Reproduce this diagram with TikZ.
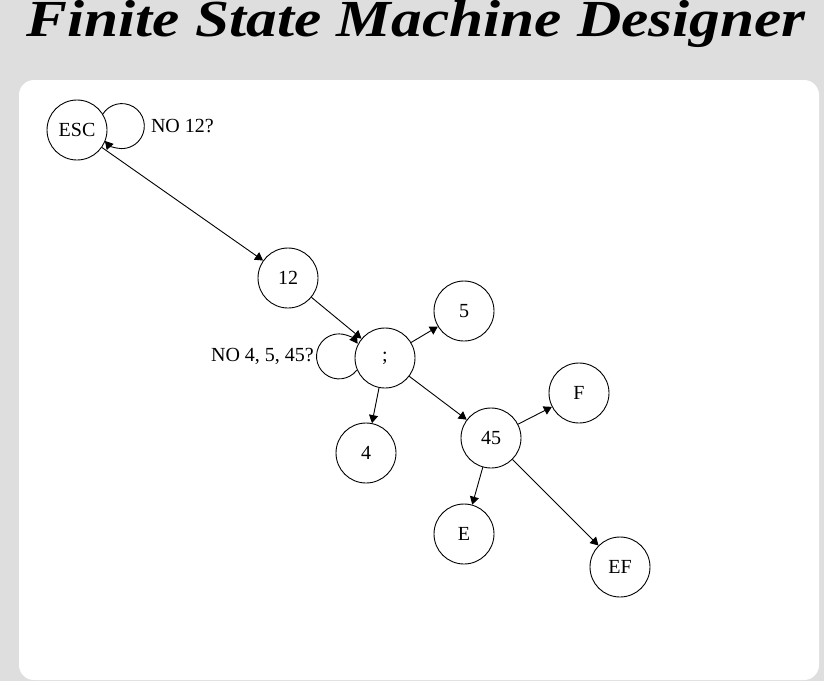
\documentclass[tikz,border=0pt]{standalone}
\usepackage{fontspec}
\usepackage{graphicx}
\setmainfont{Liberation Serif}
\usetikzlibrary{arrows.meta,calc}
\definecolor{pagegray}{RGB}{222,222,222}
\tikzstyle{arrow}=[line width=0.9pt, -{Triangle[length=8pt,width=9pt]}, color=black]
\tikzstyle{state}=[circle, draw, line width=0.9pt, minimum size=60pt, inner sep=0pt, font=\fontsize{20}{24}\selectfont]
\tikzstyle{looplabel}=[inner sep=1pt, font=\fontsize{20}{24}\selectfont]

\begin{document}
\begin{tikzpicture}[x=1pt, y=-1pt]
    % Page and canvas
    \fill[pagegray] (0,0) rectangle (824,681);
    \useasboundingbox (0,0) rectangle (824,681);
    \fill[white, rounded corners=15pt] (19,80) rectangle (819,680);

    % Title
    \node[anchor=base, inner sep=0pt] (title) at (416,36) {\scalebox{1.18}[1]{\fontsize{52}{60}\selectfont\bfseries\itshape Finite State Machine Designer}};

    % States
    \node[state] (esc) at (77,130) {ESC};
    \node[state] (twelve) at (288,278) {12};
    \node[state] (semi) at (385,358) {;};
    \node[state] (five) at (464,311) {5};
    \node[state] (four) at (366,453) {4};
    \node[state] (fortyfive) at (491,438) {45};
    \node[state] (f) at (579,393) {F};
    \node[state] (e) at (464,534) {E};
    \node[state] (ef) at (620,567) {EF};

    % Transitions
    \draw[arrow] (esc) -- (twelve);
    \draw[arrow] (twelve) -- (semi);
    \draw[arrow] (semi) -- (five);
    \draw[arrow] (semi) -- (four);
    \draw[arrow] (semi) -- (fortyfive);
    \draw[arrow] (fortyfive) -- (f);
    \draw[arrow] (fortyfive) -- (e);
    \draw[arrow] (fortyfive) -- (ef);

    % Self loops
    \draw[arrow] ($(esc.center)+(-5:45)+(211.3:22.5)$) arc[start angle=211.3, end angle=498.7, radius=22.5];
    \node[looplabel, anchor=west] (noesc) at ($(esc.center)+(-5:45)+(28,0)$) {NO 12?};

    \draw[arrow] ($(semi.center)+(182:46)+(38.3:22.5)$) arc[start angle=38.3, end angle=325.7, radius=22.5];
    \node[looplabel, anchor=east] (nosemi) at ($(semi.center)+(182:46)+(-24,0)$) {NO 4, 5, 45?};

\end{tikzpicture}
\end{document}
